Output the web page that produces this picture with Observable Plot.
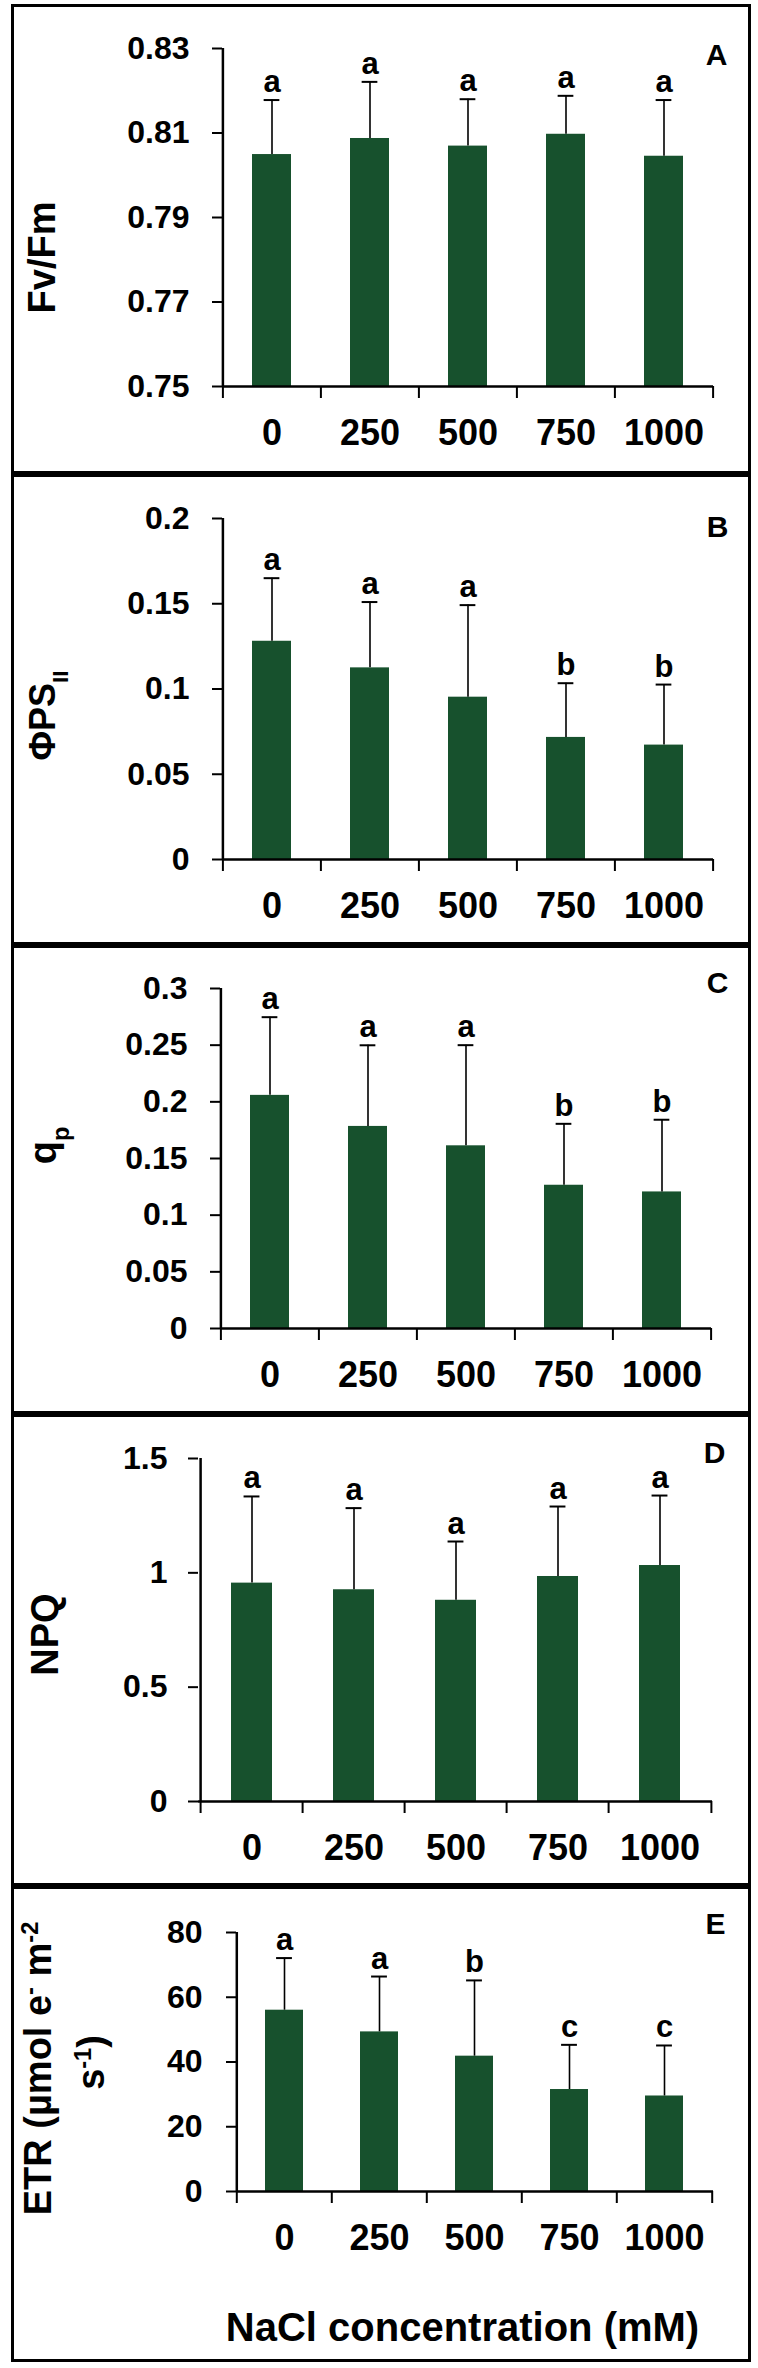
<!DOCTYPE html>
<html><head><meta charset="utf-8">
<script src="https://cdn.jsdelivr.net/npm/d3@7"></script>
<script src="https://cdn.jsdelivr.net/npm/@observablehq/plot@0.6"></script>
<style>
body{margin:0;background:#fff;width:758px;height:2368px;overflow:hidden;position:relative}
#wrap{position:absolute;left:11px;top:4px;width:740px}
.panel{box-sizing:border-box;border:3px solid #000;width:740px;overflow:hidden;background:#fff}
.panel svg{display:block}
</style></head><body><div id="wrap"></div>
<script>
// ---- data ----
const concentrations = ["0", "250", "500", "750", "1000"];

const fvfmMean = [0.8049, 0.8087, 0.8069, 0.8097, 0.8045];
const fvfmErr  = [0.0129, 0.0134, 0.0111, 0.0091, 0.0133];
const fvfmSig  = ["a", "a", "a", "a", "a"];
const fvfmTicks = [0.75, 0.77, 0.79, 0.81, 0.83];

const phiMean = [0.128, 0.1124, 0.0952, 0.0716, 0.0671];
const phiErr  = [0.037, 0.0386, 0.054, 0.0318, 0.0355];
const phiSig  = ["a", "a", "a", "b", "b"];
const phiTicks = [0, 0.05, 0.1, 0.15, 0.2];

const qpMean = [0.2057, 0.1783, 0.1612, 0.1264, 0.1205];
const qpErr  = [0.069, 0.0716, 0.0888, 0.0542, 0.0637];
const qpSig  = ["a", "a", "a", "b", "b"];
const qpTicks = [0, 0.05, 0.1, 0.15, 0.2, 0.25, 0.3];

const npqMean = [0.955, 0.926, 0.880, 0.984, 1.032];
const npqErr  = [0.379, 0.357, 0.257, 0.306, 0.306];
const npqSig  = ["a", "a", "a", "a", "a"];
const npqTicks = [0, 0.5, 1, 1.5];

const etrMean = [56.0, 49.3, 41.8, 31.5, 29.5];
const etrErr  = [16.1, 17.1, 23.4, 13.8, 15.6];
const etrSig  = ["a", "a", "b", "c", "c"];
const etrTicks = [0, 20, 40, 60, 80];

const xTitle = "NaCl concentration (mM)";

// ---- layout / style ----
const GREEN = "#17512d";
const FONT = "'Liberation Sans', Arial, Helvetica, sans-serif";
const W = 734;

const panels = [
  {letter:"A", mean:fvfmMean, err:fvfmErr, sig:fvfmSig, ticks:fvfmTicks, h:470, mt:41, mb:85, ml:208, mr:35, tp:23,
   labels:[{parts:[{t:"Fv/Fm"}], pos:[28,250], size:38}], letterPos:[702,48]},
  {letter:"B", mean:phiMean, err:phiErr, sig:phiSig, ticks:phiTicks, h:471, mt:41, mb:83, ml:208, mr:35, tp:23,
   labels:[{parts:[{t:"ΦPS"},{t:"II",s:"sub"}], pos:[29,238], size:36}], letterPos:[703,50]},
  {letter:"C", mean:qpMean, err:qpErr, sig:qpSig, ticks:qpTicks, h:469, mt:40, mb:83, ml:206, mr:37, tp:23,
   labels:[{parts:[{t:"q"},{t:"p",s:"sub"}], pos:[29,197], size:38}], letterPos:[703,35]},
  {letter:"D", mean:npqMean, err:npqErr, sig:npqSig, ticks:npqTicks, h:472, mt:41, mb:82, ml:184, mr:36, tp:21,
   labels:[{parts:[{t:"NPQ"}], pos:[31,217], size:38}], letterPos:[700,36]},
  {letter:"E", mean:etrMean, err:etrErr, sig:etrSig, ticks:etrTicks, h:476, mt:43, mb:168, ml:222, mr:35, tp:24,
   labels:[{parts:[{t:"ETR (µmol e"},{t:"-",s:"sup"},{t:" m"},{t:"-2",s:"sup"}], pos:[24,179], size:38},
           {parts:[{t:"s"},{t:"-1",s:"sup"},{t:")"}], pos:[77,173], size:38}],
   letterPos:[701,35], title:{text:xTitle, pos:[448,439], size:40}}
];

function rich(svg, plain, parts) {
  const t = Array.from(svg.querySelectorAll("text")).find(e => e.textContent === plain);
  if (!t) return;
  while (t.firstChild) t.removeChild(t.firstChild);
  for (const p of parts) {
    const s = document.createElementNS("http://www.w3.org/2000/svg", "tspan");
    s.textContent = p.t;
    if (p.s) {
      s.setAttribute("baseline-shift", p.s === "sup" ? "super" : "sub");
      s.setAttribute("font-size", "62%");
    }
    t.appendChild(s);
  }
}

const wrap = document.getElementById("wrap");
panels.forEach((p, k) => {
  const H = p.h - 6;
  const step = (W - p.ml - p.mr) / concentrations.length;
  const bw = step * 0.4;
  const capInset = (bw - 16) / 2;
  const y0 = p.ticks[0], y1 = p.ticks[p.ticks.length - 1];
  const data = concentrations.map((c, i) => ({c, mean: p.mean[i], err: p.err[i], sig: p.sig[i]}));
  const frameMidY = (p.mt + H - p.mb) / 2;
  const marks = [
    Plot.barY(data, {x: "c", y1: () => y0, y2: "mean", fill: GREEN}),
    Plot.ruleX(data, {x: "c", y1: "mean", y2: d => d.mean + d.err, stroke: "#000", strokeWidth: 1.6}),
    Plot.tickY(data, {x: "c", y: d => d.mean + d.err, stroke: "#000", strokeWidth: 2, insetLeft: capInset, insetRight: capInset}),
    Plot.text(data, {x: "c", y: d => d.mean + d.err, text: "sig", dy: -8, lineAnchor: "bottom", fontSize: 31, fontWeight: "bold", fill: "#000"}),
    Plot.axisY(p.ticks, {tickSize: 10, tickPadding: p.tp, fontSize: 32, fontWeight: "bold", strokeWidth: 2, tickFormat: d => String(d), label: null}),
    Plot.axisX({tickSize: 0, tickPadding: 33, fontSize: 36, fontWeight: "bold", label: null}),
    Plot.ruleX([concentrations[0]], {dx: -step / 2, stroke: "#000", strokeWidth: 2.5}),
    Plot.ruleY([y0], {stroke: "#000", strokeWidth: 2.5}),
    Plot.ruleX(concentrations, {dx: -step / 2, y1: () => y0, y2: () => y0, insetBottom: -12, stroke: "#000", strokeWidth: 2}),
    Plot.ruleX([concentrations[concentrations.length - 1]], {dx: step / 2, y1: () => y0, y2: () => y0, insetBottom: -12, stroke: "#000", strokeWidth: 2}),
    Plot.text([p.letter], {frameAnchor: "top-right", text: d => d, dx: p.letterPos[0] - (W - p.mr), dy: p.letterPos[1] - p.mt,
      textAnchor: "middle", lineAnchor: "middle", fontSize: 30, fontWeight: "bold", fill: "#000"})
  ];
  p.labels.forEach(l => {
    marks.push(Plot.text([l.parts.map(q => q.t).join("")], {frameAnchor: "left", text: d => d,
      dx: l.pos[0] - p.ml, dy: l.pos[1] - frameMidY, rotate: -90, textAnchor: "middle", lineAnchor: "middle",
      fontSize: l.size, fontWeight: "bold", fill: "#000"}));
  });
  if (p.title) {
    marks.push(Plot.text([p.title.text], {frameAnchor: "bottom", text: d => d,
      dx: p.title.pos[0] - (p.ml + W - p.mr) / 2, dy: p.title.pos[1] - (H - p.mb),
      textAnchor: "middle", lineAnchor: "middle", fontSize: p.title.size, fontWeight: "bold", fill: "#000"}));
  }
  const svg = Plot.plot({
    width: W, height: H,
    marginTop: p.mt, marginBottom: p.mb, marginLeft: p.ml, marginRight: p.mr,
    x: {domain: concentrations, paddingInner: 0.6, paddingOuter: 0.3},
    y: {domain: [y0, y1]},
    style: {fontFamily: FONT, fontWeight: "bold", color: "#000", background: "#fff", overflow: "visible"},
    marks
  });
  p.labels.forEach(l => rich(svg, l.parts.map(q => q.t).join(""), l.parts));
  const div = document.createElement("div");
  div.className = "panel";
  div.style.height = p.h + "px";
  div.appendChild(svg);
  wrap.appendChild(div);
});
</script></body></html>
